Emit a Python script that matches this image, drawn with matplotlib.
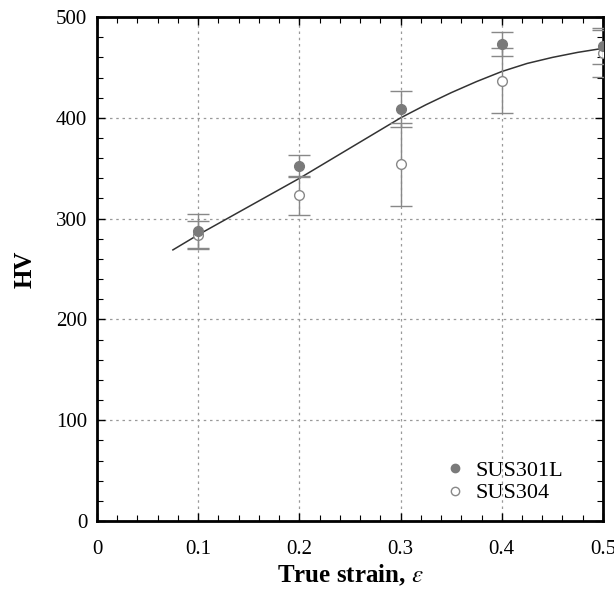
import numpy as np
import matplotlib.pyplot as plt

plt.rcParams['font.family'] = ['Liberation Serif', 'DejaVu Serif']
plt.rcParams['mathtext.fontset'] = 'stix'

# donnees
strain = [0.1, 0.2, 0.3, 0.4, 0.5]
hv_301l = [288, 352, 409, 473, 471]
err_301l = [17, 11, 18, 12, 18]
hv_304 = [284, 323, 354, 437, 464]
err_304 = [14, 19, 41, 32, 23]

# courbe d'ajustement (points lus)
fit_x = [0.075, 0.1, 0.125, 0.15, 0.175, 0.2, 0.225, 0.25, 0.275, 0.3,
         0.325, 0.35, 0.375, 0.4, 0.425, 0.45, 0.475, 0.5]
fit_y = [269, 284, 298, 312, 326, 340, 355, 370, 385, 400,
         413, 425, 436, 446, 454, 460, 465, 469]

fig = plt.figure(figsize=(6.14, 5.90), dpi=100)
ax = fig.add_axes([0.158, 0.117, 0.824, 0.854])

ax.grid(True, which='major', color='#999999', linestyle=(0, (2, 3)), linewidth=0.9)
ax.set_axisbelow(True)

ax.plot(fit_x, fit_y, color='#333333', linewidth=1.1, zorder=3)

ax.errorbar(strain, hv_304, yerr=err_304, fmt='o', markersize=7,
            markerfacecolor='white', markeredgecolor='#888888', markeredgewidth=1.0,
            ecolor='#888888', elinewidth=1.0, capsize=8, capthick=1.0, zorder=4)
ax.errorbar(strain, hv_301l, yerr=err_301l, fmt='o', markersize=7,
            markerfacecolor='#7a7a7a', markeredgecolor='#7a7a7a',
            ecolor='#888888', elinewidth=1.0, capsize=8, capthick=1.0, zorder=5)

# legende : marqueurs seuls
h1, = ax.plot([], [], 'o', markersize=6, color='#7a7a7a', label='SUS301L')
h2, = ax.plot([], [], 'o', markersize=6, markerfacecolor='white',
              markeredgecolor='#888888', label='SUS304')
ax.legend(handles=[h1, h2], loc='lower right', bbox_to_anchor=(0.96, -0.005),
          frameon=False, fontsize=16, handletextpad=0.3, handlelength=1.2,
          labelspacing=0.1)

ax.set_xlim(0, 0.5)
ax.set_ylim(0, 500)
ax.set_xticks([0, 0.1, 0.2, 0.3, 0.4, 0.5])
ax.set_xticklabels(['0', '0.1', '0.2', '0.3', '0.4', '0.5'])
ax.set_yticks([0, 100, 200, 300, 400, 500])
ax.set_xticks(np.arange(0, 0.5001, 0.02), minor=True)
ax.set_yticks(np.arange(0, 500.1, 20), minor=True)

ax.tick_params(which='both', direction='in', top=True, right=True, labelsize=15)
ax.tick_params(axis='x', which='major', pad=14)
ax.tick_params(axis='y', which='major', pad=7)
ax.tick_params(which='major', length=6, width=1)
ax.tick_params(which='minor', length=4, width=0.8)
for sp in ax.spines.values():
    sp.set_linewidth(2)

ax.set_xlabel(r'True strain, $\varepsilon$', fontsize=18, fontweight='bold', labelpad=2)
ax.set_ylabel('HV', fontsize=18, fontweight='bold', labelpad=14)

fig.savefig('out.png', dpi=100)
